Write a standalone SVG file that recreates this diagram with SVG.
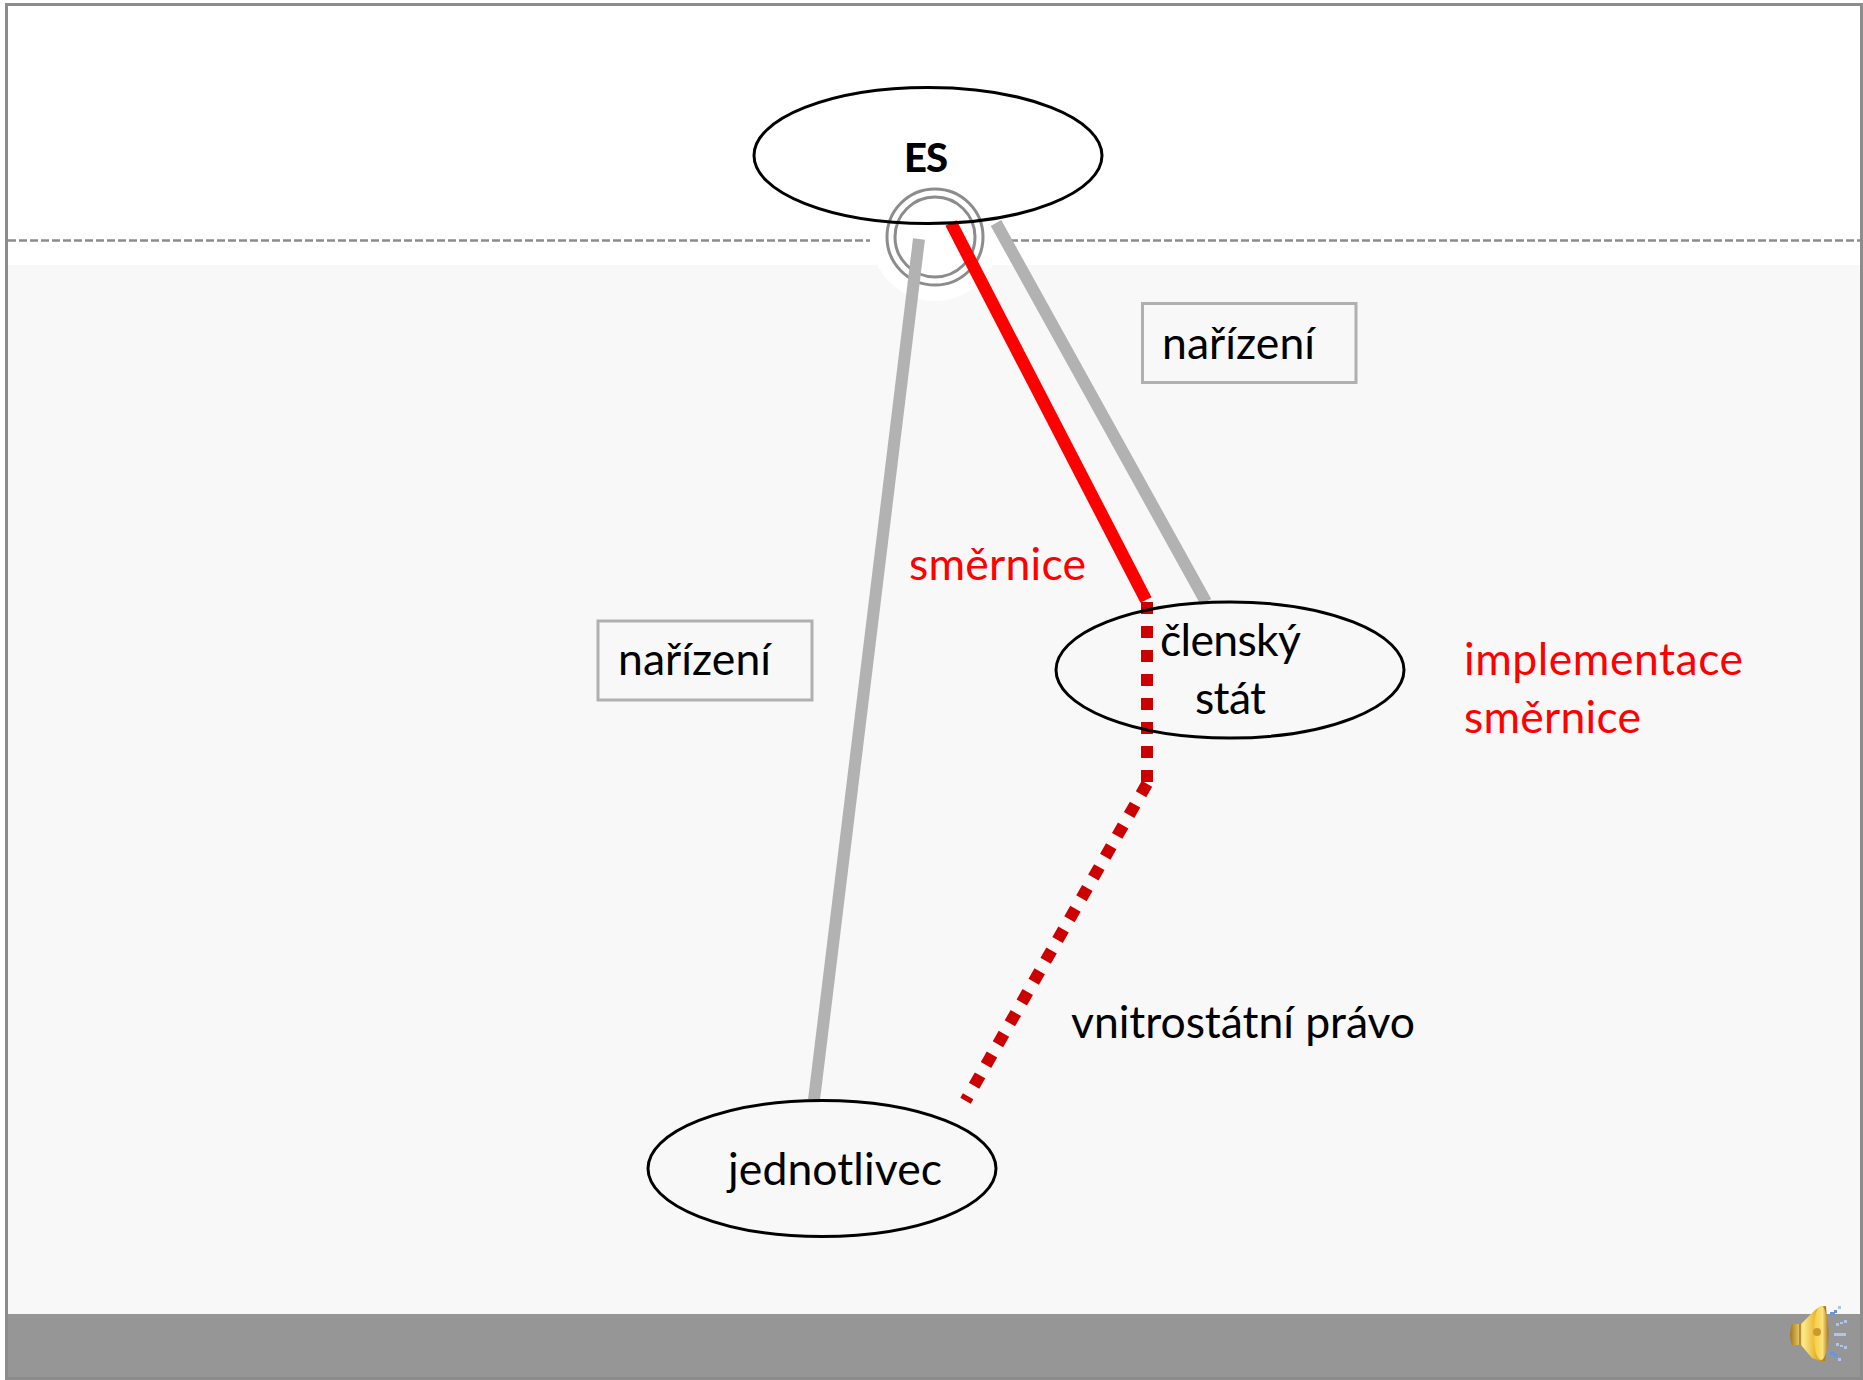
<svg xmlns="http://www.w3.org/2000/svg" width="1863" height="1380" viewBox="0 0 1863 1380">
<style>
.t{font-family:Lato,"Noto Sans",sans-serif;font-size:44.500px;fill:#000}
.r{fill:#f00}
.n{fill:none;stroke:#000;stroke-width:3}
.b{fill:none;stroke:#b0b0b0;stroke-width:3}
.g{stroke:#b2b2b2;stroke-width:12;fill:none}
.d{fill:none;stroke:#c00;stroke-width:12;stroke-dasharray:12 12}
.p1{fill:#6f94d6}
.p2{fill:#aec4e8}
</style>
<defs>
<linearGradient id="sp" x1="0" y1="0" x2="1" y2="0"><stop offset="0" stop-color="#a8761a"/><stop offset=".35" stop-color="#fde98c"/><stop offset=".7" stop-color="#e6b028"/><stop offset="1" stop-color="#9a6a14"/></linearGradient>
<linearGradient id="sp2" x1="0" y1="0" x2="1" y2="0"><stop offset="0" stop-color="#f6c93a"/><stop offset=".6" stop-color="#fbe27c"/><stop offset="1" stop-color="#a87818"/></linearGradient>
</defs>
<rect width="1863" height="1380" fill="#fff"/>
<rect x="8" y="265" width="1855" height="1050" fill="#f8f8f8"/>
<circle cx="935" cy="237" r="64" fill="#fff"/>
<rect x="8" y="1314" width="1855" height="66" fill="#969696"/>
<g id="frame" fill="none" stroke="#8c8c8c" stroke-width="3">
<path d="M6.500 1380V4.500H1863"/>
<path d="M1861.500 4V1380M6 1378.500H1863"/>
</g>
<g id="horizon" fill="none" stroke="#8c8c8c" stroke-width="2.500" stroke-dasharray="8 3">
<path d="M8 240.500H870"/>
<path d="M1010 240.500H1863"/>
</g>
<g id="ring" fill="none" stroke="#8c8c8c" stroke-width="3">
<circle cx="935" cy="237" r="48"/>
<circle cx="935" cy="237" r="40"/>
</g>
<g id="connectors">
<path class="g" d="M919 239L814 1100"/>
<path class="g" d="M996 223L1206 602"/>
<path d="M951 223L1146 600" fill="none" stroke="#f00" stroke-width="12.500"/>
<path class="d" d="M1147 602V782"/>
<path class="d" d="M1147 783.800L965.500 1100.800"/>
</g>
<g id="es"><ellipse class="n" cx="928" cy="155.500" rx="174" ry="68"/>
<text class="t" x="904" y="172" textLength="44" style="font-size:40px;font-weight:900">ES</text></g>
<g id="clensky-stat"><ellipse class="n" cx="1230" cy="670" rx="174" ry="68"/>
<text class="t" x="1160" y="656" textLength="141">členský</text>
<text class="t" x="1195" y="714" textLength="71">stát</text></g>
<g id="jednotlivec"><ellipse class="n" cx="822" cy="1168.500" rx="174" ry="68"/>
<text class="t" x="728" y="1185" textLength="214">jednotlivec</text></g>
<g id="narizeni-1"><rect class="b" x="1142.500" y="303.500" width="213.500" height="79"/>
<text class="t" x="1162" y="358.500" textLength="153">nařízení</text></g>
<g id="narizeni-2"><rect class="b" x="598" y="621" width="214" height="79"/>
<text class="t" x="618" y="674.500" textLength="153">nařízení</text></g>
<g id="smernice"><text class="t r" x="909" y="580" textLength="177">směrnice</text></g>
<g id="implementace"><text class="t r" x="1464" y="675" textLength="279">implementace</text>
<text class="t r" x="1464" y="733" textLength="177">směrnice</text></g>
<g id="vnitrostatni"><text class="t" x="1071" y="1037.500" textLength="344">vnitrostátní právo</text></g>
<g id="speaker">
<path d="M1792 1324H1801L1815 1310Q1820 1306 1826 1306L1828 1333L1825 1361H1820L1812 1358L1801 1345H1792Q1788 1335 1792 1324Z" fill="url(#sp)"/>
<path d="M1800 1324V1345" stroke="#a8761a" stroke-width="1.500" fill="none"/>
<ellipse cx="1821" cy="1333" rx="7.500" ry="27" fill="url(#sp2)"/>
<circle cx="1817" cy="1332" r="4" fill="#c89a30"/>
<rect class="p2" x="1838" y="1306" width="3" height="3"/>
<rect class="p1" x="1830" y="1312" width="5" height="3"/>
<rect class="p1" x="1834" y="1310" width="3" height="3"/>
<rect class="p2" x="1844" y="1320" width="3" height="3"/>
<rect class="p2" x="1840" y="1322" width="3" height="2"/>
<rect class="p2" x="1836" y="1323" width="3" height="3"/>
<rect class="p2" x="1834" y="1333" width="12" height="3"/>
<rect class="p2" x="1836" y="1343" width="3" height="3"/>
<rect class="p2" x="1840" y="1345" width="3" height="2"/>
<rect class="p2" x="1844" y="1346" width="3" height="3"/>
<rect class="p1" x="1830" y="1352" width="5" height="3"/>
<rect class="p1" x="1834" y="1354" width="3" height="3"/>
<rect class="p2" x="1838" y="1358" width="3" height="3"/>
</g>
</svg>
